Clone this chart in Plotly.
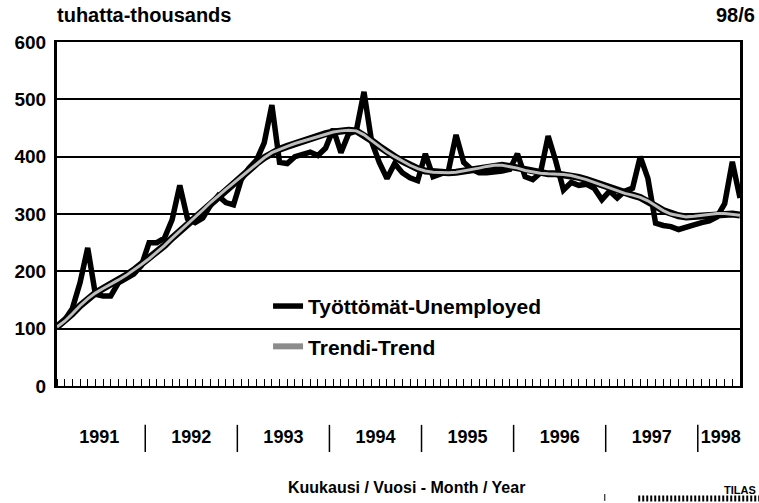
import plotly.graph_objects as go

# ---- data ----
years = ["1991", "1992", "1993", "1994", "1995", "1996", "1997", "1998"]
months_per_year = [12, 12, 12, 12, 12, 12, 12, 6]

unemployed = [
    103, 115, 135, 180, 241, 160, 157, 157, 180, 188, 195, 210,   # 1991
    250, 250, 258, 290, 350, 292, 285, 293, 315, 332, 320, 316,   # 1992
    360, 380, 394, 424, 490, 390, 388, 400, 405, 408, 402, 415,   # 1993
    448, 407, 440, 445, 513, 426, 390, 362, 388, 372, 363, 358,   # 1994
    405, 365, 370, 375, 438, 390, 378, 372, 372, 373, 375, 378,   # 1995
    405, 365, 360, 372, 436, 392, 342, 355, 350, 352, 345, 325,   # 1996
    340, 328, 340, 345, 400, 362, 284, 280, 278, 273, 278, 281,   # 1997
    285, 288, 295, 318, 391, 328,                                 # 1998
]

trend = [
    103, 113, 126, 140, 152, 162, 170, 177, 185, 193, 202, 212,
    222, 233, 245, 258, 270, 282, 295, 307, 320, 332, 343, 354,
    365, 376, 388, 398, 407, 413, 418, 423, 427, 432, 436, 440,
    443, 445, 446, 445, 438, 428, 418, 408, 400, 392, 385, 379,
    375, 373, 372, 372, 373, 375, 377, 380, 383, 385, 385, 383,
    380, 376, 373, 371, 370, 370, 369, 367, 364, 360, 355, 350,
    345, 340, 336, 333, 329, 323, 314, 306, 300, 297, 295, 296,
    298, 300, 301, 301, 300, 298,
]

y_ticks = [0, 100, 200, 300, 400, 500, 600]

label_unemp = "Työttömät-Unemployed"
label_trend = "Trendi-Trend"
title_left = "tuhatta-thousands"
title_right = "98/6"
x_title = "Kuukausi / Vuosi - Month / Year"
stamp = "TILAS"

# ---- derived positions ----
n = len(unemployed)
x = list(range(n))
year_start = []
s = 0
for m in months_per_year:
    year_start.append(s)
    s += m
year_centers = [st + (m - 1) / 2 for st, m in zip(year_start, months_per_year)]
year_bounds = [st - 0.5 for st in year_start[1:]]

FW = "Liberation Sans, Arial, Helvetica, sans-serif"

fig = go.Figure()
fig.add_trace(go.Scatter(x=x, y=unemployed, mode="lines", name=label_unemp,
                         line=dict(color="black", width=5.5), legendgroup="a",
                         hoverinfo="skip"))
fig.add_trace(go.Scatter(x=x, y=trend, mode="lines", showlegend=False,
                         line=dict(color="black", width=7), hoverinfo="skip"))
fig.add_trace(go.Scatter(x=x, y=trend, mode="lines", showlegend=False,
                         line=dict(color="#bdbdbd", width=3), hoverinfo="skip"))
# legend-only entry for trend
fig.add_trace(go.Scatter(x=[None], y=[None], mode="lines", name=label_trend,
                         line=dict(color="#8c8c8c", width=6), legendgroup="b"))

shapes = []
for b in year_bounds:
    shapes.append(dict(type="line", xref="x", yref="paper", x0=b, x1=b,
                       y0=-0.113, y1=-0.192, line=dict(color="black", width=1.5)))
# small scanner marks at bottom right
shapes.append(dict(type="line", xref="paper", yref="paper", x0=0.802, x1=0.802,
                   y0=-0.314, y1=-0.334, line=dict(color="black", width=1)))
shapes.append(dict(type="line", xref="paper", yref="paper", x0=0.851, x1=1.03,
                   y0=-0.327, y1=-0.327, line=dict(color="black", width=6, dash="2px,2px")))

annotations = [
    dict(text=title_left, xref="paper", yref="paper", x=-0.003, y=1.078,
         xanchor="left", yanchor="middle", showarrow=False,
         font=dict(family=FW, size=20, color="black", weight="bold")),
    dict(text=title_right, xref="paper", yref="paper", x=1.025, y=1.078,
         xanchor="right", yanchor="middle", showarrow=False,
         font=dict(family=FW, size=20, color="black", weight="bold")),
    dict(text=x_title, xref="paper", yref="paper", x=0.511, y=-0.294,
         xanchor="center", yanchor="middle", showarrow=False,
         font=dict(family=FW, size=16, color="black", weight="bold")),
    dict(text=stamp, xref="paper", yref="paper", x=1.026, y=-0.302,
         xanchor="right", yanchor="middle", showarrow=False,
         font=dict(family=FW, size=11, color="black", weight="bold")),
]

fig.update_layout(
    width=759, height=503,
    margin=dict(l=57, r=19, t=42, b=117),
    paper_bgcolor="white", plot_bgcolor="white",
    showlegend=True,
    legend=dict(x=0.309, y=0.291, xanchor="left", yanchor="top",
                bgcolor="rgba(0,0,0,0)", borderwidth=0,
                traceorder="grouped", tracegroupgap=10,
                font=dict(family=FW, size=21, color="black", weight="bold")),
    shapes=shapes,
    annotations=annotations,
)

fig.update_xaxes(
    range=[0, n - 1], automargin=False,
    tickmode="array", tickvals=year_centers, ticktext=years,
    ticks="", ticklabelstandoff=33,
    tickfont=dict(family=FW, size=18, color="black", weight="bold"),
    showgrid=False, zeroline=False,
    showline=True, linecolor="black", linewidth=2, mirror=True,
    minor=dict(tickvals=x, ticks="inside", ticklen=7, tickwidth=1.3,
               tickcolor="black", showgrid=False),
)
fig.update_yaxes(
    range=[0, 600], automargin=False,
    tickmode="array", tickvals=y_ticks,
    ticks="", ticklabelstandoff=4,
    tickfont=dict(family=FW, size=19, color="black", weight="bold"),
    showgrid=True, gridcolor="black", gridwidth=2,
    zeroline=False,
    showline=True, linecolor="black", linewidth=3, mirror=True,
)

# remove the default page margin so the figure fills the window exactly
fig.write_html(
    "out.html",
    config={"displayModeBar": False},
    post_script="document.body.style.margin='0';"
                "document.documentElement.style.overflow='hidden';",
)
